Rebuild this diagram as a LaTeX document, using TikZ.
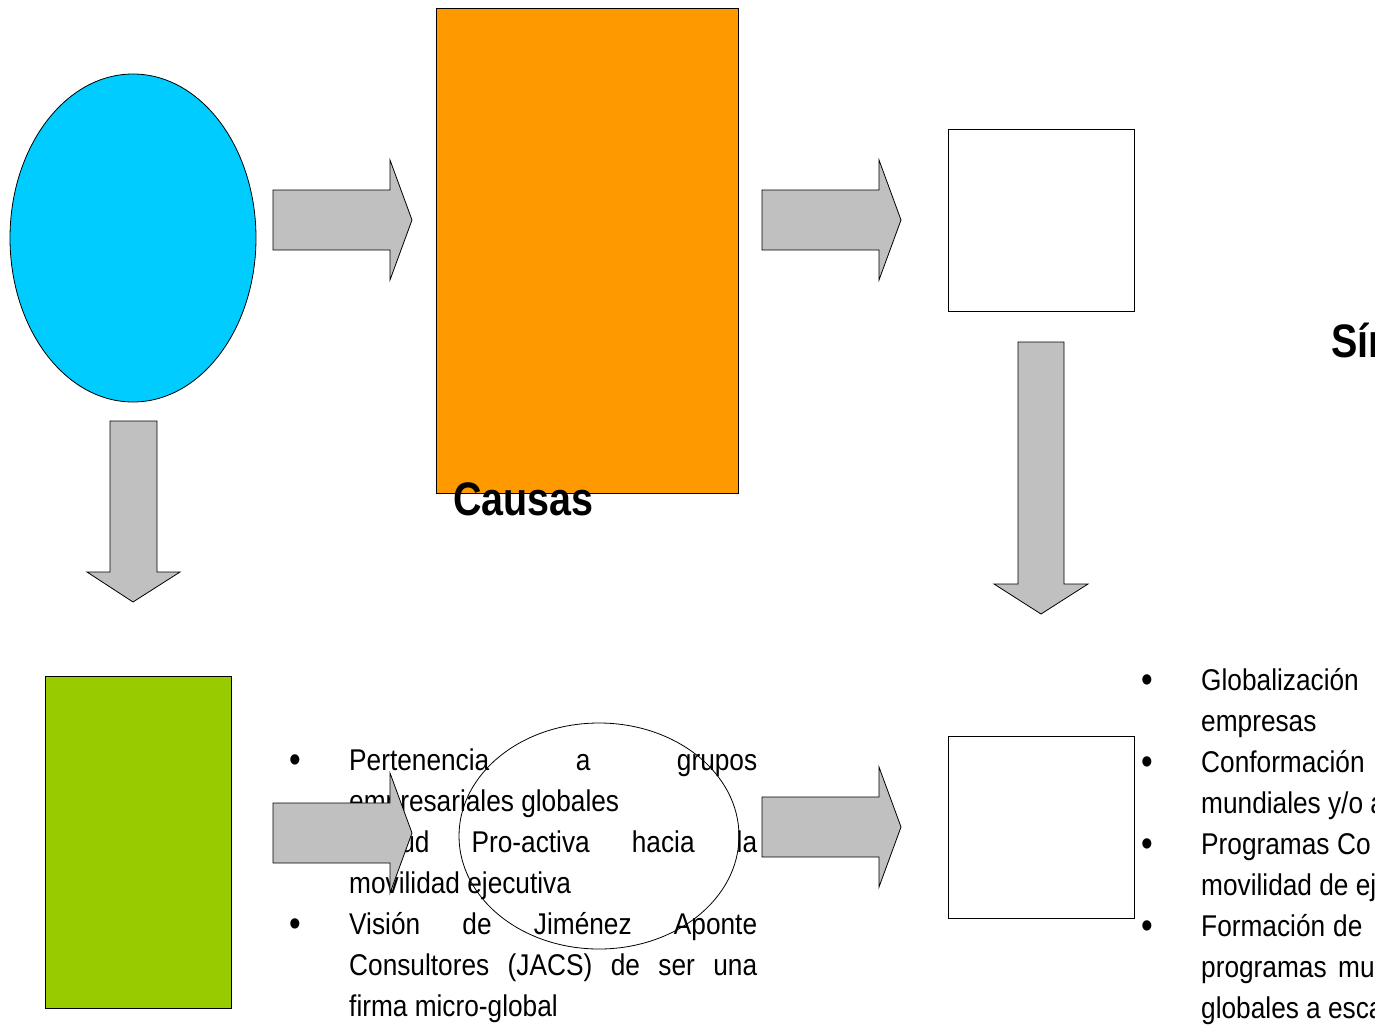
\documentclass[tikz,border=0pt]{standalone}
\usepackage{fontspec}
\setmainfont{Liberation Sans}
\newfontfamily\bodyfont[FakeStretch=0.875]{Liberation Sans}
\newfontfamily\headfont[FakeStretch=0.84]{Liberation Sans}
\usetikzlibrary{shapes.geometric}
\definecolor{skyblue}{HTML}{00CCFF}
\definecolor{orangebox}{HTML}{FF9900}
\definecolor{greenbox}{HTML}{99CC00}
\definecolor{arrowgray}{HTML}{C0C0C0}
\begin{document}
\begin{tikzpicture}[x=1pt,y=-1pt,
  blk/.style={draw=black,line width=0.8pt,inner sep=0pt,anchor=north west},
  garrow/.style={fill=arrowgray,draw=black,line width=0.8pt,line join=miter},
  btxt/.style={anchor=base west,inner sep=0pt,font=\bodyfont\fontsize{30}{36}\selectfont},
  bul/.style={anchor=base,inner sep=0pt,font=\bodyfont\fontsize{38}{44}\selectfont},
  head/.style={anchor=base west,inner sep=0pt,font=\headfont\bfseries\fontsize{47}{56}\selectfont}]
\useasboundingbox (0,0) rectangle (1375,1025);
\clip (0,0) rectangle (1375,1025);
% main shapes
\node[ellipse,draw=black,line width=0.8pt,fill=skyblue,minimum width=246pt,minimum height=328pt,inner sep=0pt] (circ) at (133,238) {};
\node[blk,fill=orangebox,minimum width=302pt,minimum height=485pt] (orange) at (436,8) {};
\node[blk,fill=white,minimum width=186pt,minimum height=182pt] (boxtop) at (948,129) {};
\node[blk,fill=white,minimum width=186pt,minimum height=182pt] (boxbot) at (948,736) {};
\node[blk,fill=greenbox,minimum width=186pt,minimum height=332pt] (green) at (45,676) {};
% headings
\node[head] (causas) at (453,515) {Causas};
\node[head] (sint) at (1331,357) {Sín};
% middle bullet text
\node[bul] (b1) at (295,772) {•};
\node[btxt] (l1) at (349,770) {\makebox[408pt][s]{Pertenencia a grupos}};
\node[btxt] (l2) at (349,811) {empresariales globales};
\node[bul] (b2) at (295,854) {•};
\node[btxt] (l3) at (349,852) {\makebox[408pt][s]{Actitud Pro-activa hacia la}};
\node[btxt] (l4) at (349,893) {movilidad ejecutiva};
\node[bul] (b3) at (295,936) {•};
\node[btxt] (l5) at (349,934) {\makebox[408pt][s]{Visión de Jiménez Aponte}};
\node[btxt] (l6) at (349,975) {\makebox[408pt][s]{Consultores (JACS) de ser una}};
\node[btxt] (l7) at (349,1016) {firma micro-global};
% right bullet text
\node[bul] (r1) at (1147,692) {•};
\node[btxt] (rt1) at (1201,690) {Globalización};
\node[btxt] (rt2) at (1201,731) {empresas};
\node[bul] (r2) at (1147,774) {•};
\node[btxt] (rt3) at (1201,772) {Conformación};
\node[btxt] (rt4) at (1201,813) {mundiales y/o a};
\node[bul] (r3) at (1147,856) {•};
\node[btxt] (rt5) at (1201,854) {Programas};
\node[btxt] (rt5b) at (1337,854) {Co};
\node[btxt] (rt6) at (1201,895) {movilidad de ej};
\node[bul] (r4) at (1147,938) {•};
\node[btxt] (rt7) at (1201,936) {Formación};
\node[btxt] (rt7b) at (1333,936) {de};
\node[btxt] (rt8) at (1201,977) {programas};
\node[btxt] (rt8b) at (1338,977) {mu};
\node[btxt] (rt9) at (1201,1018) {globales a esca};
% block arrows
\draw[garrow] (273,190) -- (390,190) -- (390,160) -- (412,220) -- (390,280) -- (390,250) -- (273,250) -- cycle;
\draw[garrow] (762,190) -- (879,190) -- (879,160) -- (901,220) -- (879,280) -- (879,250) -- (762,250) -- cycle;
\draw[garrow] (273,803) -- (390,803) -- (390,773) -- (412,833) -- (390,893) -- (390,863) -- (273,863) -- cycle;
\draw[garrow] (762,797) -- (879,797) -- (879,767) -- (901,827) -- (879,887) -- (879,857) -- (762,857) -- cycle;
\draw[garrow] (110,421) -- (157,421) -- (157,572) -- (180,572) -- (133,602) -- (87,572) -- (110,572) -- cycle;
\draw[garrow] (1018,342) -- (1064,342) -- (1064,584) -- (1088,584) -- (1041,614) -- (994,584) -- (1018,584) -- cycle;
% outline ellipse
\node[ellipse,draw=black,line width=0.8pt,minimum width=280pt,minimum height=226pt,inner sep=0pt] (oval) at (599,836) {};
\end{tikzpicture}
\end{document}
